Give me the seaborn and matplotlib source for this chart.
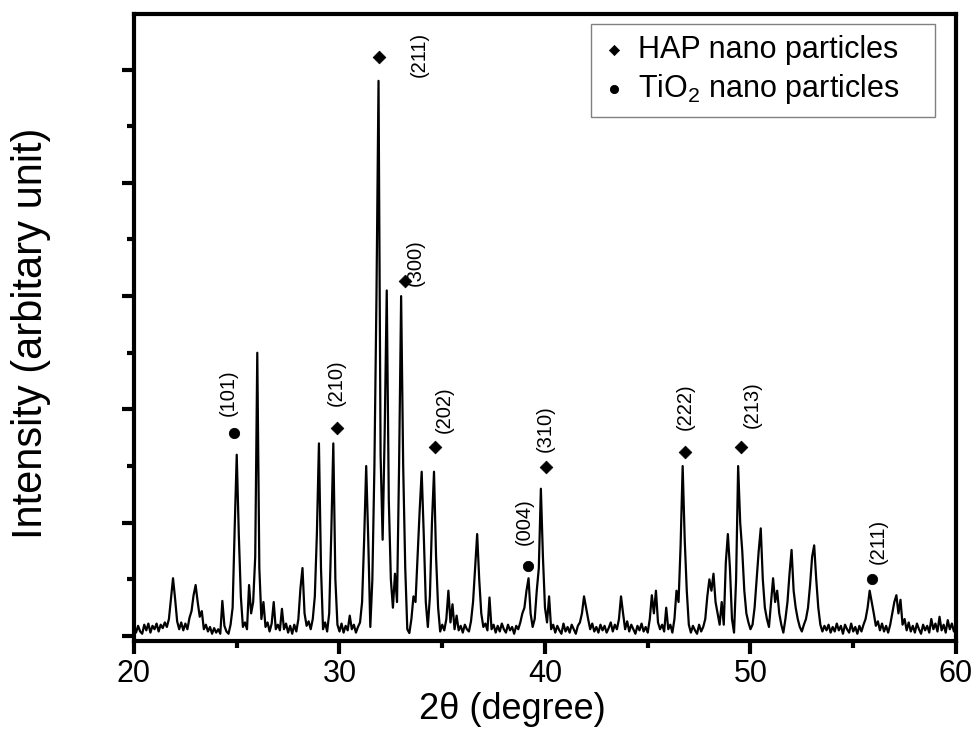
import numpy as np
import pandas as pd
import matplotlib
matplotlib.use("Agg")
import matplotlib.pyplot as plt
from matplotlib.ticker import MultipleLocator
import seaborn as sns

# XRD pattern, intensity read every 0.1 deg (2theta) from the picture
int_20s = [80, 30, 90, 40, 20, 100, 50, 110, 30, 90,
           60, 110, 40, 100, 70, 120, 80, 150, 330, 510,
           330, 130, 60, 120, 50, 110, 60, 160, 220, 360,
           450, 300, 170, 220, 60, 100, 40, 80, 20, 70,
           30, 60, 20, 310, 90, 40, 20, 100, 250, 950,
           1600, 900, 350, 80, 120, 60, 450, 200, 300, 700,
           2500, 600, 150, 300, 80, 120, 40, 110, 300, 60,
           100, 50, 240, 60, 110, 30, 90, 20, 100, 40,
           150, 420, 600, 200, 90, 130, 60, 150, 350, 900,
           1700, 600, 60, 120, 40, 200, 900, 1700, 500, 100]
int_30s = [40, 110, 30, 90, 50, 180, 60, 100, 30, 80,
           120, 300, 850, 1500, 850, 80, 500, 1500, 3000, 4900,
           1600, 850, 1800, 3050, 1200, 500, 250, 550, 300, 1500,
           3000, 1500, 600, 60, 26, 150, 350, 300, 700, 1100,
           1450, 900, 300, 80, 350, 1000, 1450, 700, 250, 40,
           100, 50, 150, 400, 120, 280, 60, 180, 50, 90,
           30, 100, 60, 40, 130, 300, 600, 900, 500, 200,
           80, 110, 50, 340, 60, 100, 30, 90, 40, 110,
           60, 30, 100, 50, 80, 20, 90, 60, 120, 200,
           250, 400, 510, 200, 80, 150, 400, 600, 1300, 700]
int_40s = [250, 120, 350, 60, 100, 30, 90, 50, 20, 110,
           40, 80, 30, 100, 60, 20, 90, 120, 200, 350,
           250, 150, 60, 110, 40, 80, 30, 100, 50, 90,
           30, 70, 120, 40, 100, 60, 150, 350, 200, 60,
           130, 40, 100, 60, 20, 90, 50, 110, 40, 80,
           30, 150, 360, 200, 400, 120, 60, 100, 40, 250,
           60, 100, 30, 150, 400, 300, 800, 1500, 850, 400,
           100, 30, 90, 50, 20, 100, 40, 80, 150, 350,
           500, 400, 550, 300, 200, 100, 300, 100, 650, 900,
           600, 150, 30, 500, 1500, 1000, 750, 400, 200, 120]
int_50s = [60, 100, 250, 500, 750, 950, 500, 250, 150, 80,
           300, 510, 300, 400, 200, 100, 30, 150, 300, 550,
           760, 400, 250, 150, 80, 40, 100, 150, 250, 450,
           700, 800, 500, 250, 100, 40, 90, 50, 100, 30,
           80, 40, 110, 50, 90, 20, 100, 60, 30, 110,
           40, 80, 20, 90, 40, 100, 150, 250, 400, 300,
           200, 90, 130, 50, 110, 40, 90, 30, 100, 200,
           300, 360, 200, 320, 100, 150, 50, 120, 40, 90,
           30, 110, 60, 20, 100, 50, 90, 30, 150, 60,
           110, 40, 170, 50, 100, 30, 140, 60, 110, 40]
intensity = int_20s + int_30s + int_40s + int_50s
two_theta = np.round(np.arange(200, 200 + len(intensity)) / 10, 1)

# phase markers
hap_x = [29.9, 31.9, 33.2, 34.66, 40.03, 46.83, 49.55]
hap_y = [1836, 5113, 3133, 1668, 1489, 1627, 1665]
tio2_x = [24.87, 39.18, 55.89]
tio2_y = [1792, 618, 503]

# (hkl) labels
hkl_text = ["(101)", "(210)", "(211)", "(300)", "(202)", "(310)",
            "(004)", "(222)", "(213)", "(211)"]
hkl_x = [24.6, 29.85, 33.9, 33.7, 35.1, 40.0, 38.98, 46.83, 50.07, 56.2]
hkl_y = [2145, 2233, 5130, 3300, 1995, 1827, 1009, 2024, 2039, 832]

sns.set_style("ticks")
plt.rcParams['font.family'] = ['Liberation Sans', 'DejaVu Sans']
plt.rcParams['mathtext.fontset'] = 'custom'
plt.rcParams['mathtext.rm'] = 'Liberation Sans'
for k in ['text.color', 'axes.labelcolor', 'xtick.color', 'ytick.color', 'axes.edgecolor']:
    plt.rcParams[k] = 'black'

fig = plt.figure(figsize=(9.73, 7.29), dpi=100)
ax = fig.add_axes([0.1377, 0.1207, 0.8448, 0.8601])

df = pd.DataFrame({"two_theta": two_theta, "intensity": intensity})
sns.lineplot(data=df, x="two_theta", y="intensity", color="black",
             lw=1.6, estimator=None, ax=ax)

sns.scatterplot(x=hap_x, y=hap_y, marker="D", s=42, color="black",
                edgecolor="black", label="HAP nano particles", ax=ax, zorder=5)
sns.scatterplot(x=tio2_x, y=tio2_y, marker="o", s=55, color="black",
                edgecolor="black", label=r"TiO$_2$ nano particles", ax=ax, zorder=5)

for t, x, y in zip(hkl_text, hkl_x, hkl_y):
    ax.text(x, y, t, rotation=90, ha="center", va="center", fontsize=14.5)

ax.set_xlim(20, 60)
ax.set_ylim(-44, 5490)
ax.xaxis.set_major_locator(MultipleLocator(10))
ax.xaxis.set_minor_locator(MultipleLocator(5))
ax.yaxis.set_major_locator(MultipleLocator(1000))
ax.yaxis.set_minor_locator(MultipleLocator(500))
ax.tick_params(which="major", direction="out", length=9, width=3, labelsize=22, pad=4)
ax.tick_params(which="minor", direction="out", length=5, width=3)
ax.tick_params(axis="y", labelleft=False)
for sp in ax.spines.values():
    sp.set_linewidth(3)

ax.set_xlabel("2θ (degree)", fontsize=26)
ax.xaxis.set_label_coords(0.46, -0.082)
ax.set_ylabel("Intensity (arbitary unit)", fontsize=30, va="center")
ax.yaxis.set_label_coords(-0.125, 0.49)

leg = ax.legend(loc="upper left", bbox_to_anchor=(0.556, 0.984, 0.4185, 0.0),
                mode="expand", borderaxespad=0,
                fontsize=22, markerscale=0.8, handlelength=0.8, handletextpad=0.4,
                borderpad=0.35, labelspacing=0.25, fancybox=False, framealpha=1)
leg.get_frame().set_edgecolor("gray")
leg.get_frame().set_linewidth(1)

fig.savefig("out.png", dpi=100)
